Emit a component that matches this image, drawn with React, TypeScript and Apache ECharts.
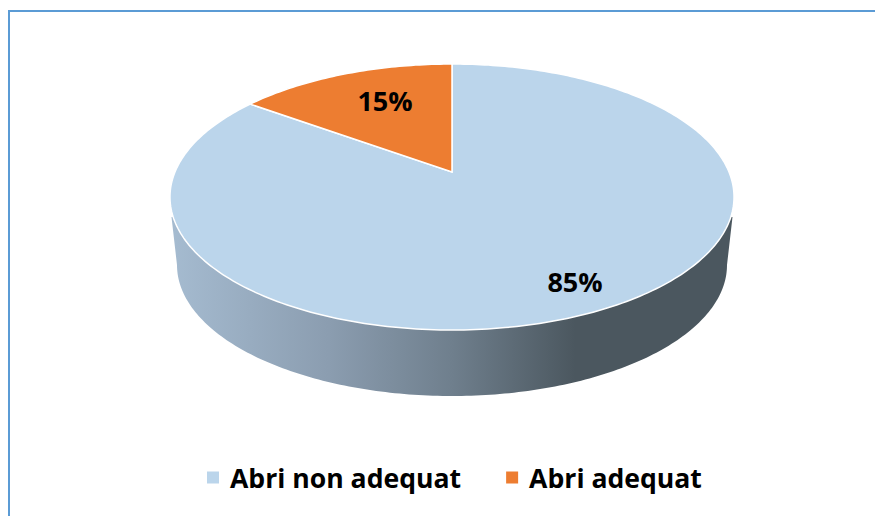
import React, { useEffect, useRef } from "react";
import * as echarts from "echarts";

const categories = ["Abri non adequat", "Abri adequat"];
const shares = [85, 15];
const sliceColors = ["#BBD5EB", "#ED7D31"];
const labelTexts = ["85%", "15%"];

const FONT = '"Open Sans", "Noto Sans", sans-serif';
const TIP = { x: 452, y: 172 };
const PERSPECTIVE = { a: 277, b: 128.3, k: 0.188 };
const LOWER = { x: 452, y: 265, rx: 275, ry: 131 };
const RIM_Y = 217;
const RIM_X = [171.5, 732.5];
const LABEL_AT = [
  { x: 575, y: 281 },
  { x: 385, y: 100 },
];

const total = shares.reduce((a, b) => a + b, 0);

function project(deg: number, r = 1): number[] {
  const t = (deg * Math.PI) / 180;
  const s = Math.cos(t);
  const c = Math.sin(t);
  const d = 1 + PERSPECTIVE.k * r * s;
  return [TIP.x + (PERSPECTIVE.a * r * c) / d, TIP.y - (PERSPECTIVE.b * r * s) / d];
}

function sliceSeries(index: number) {
  return {
    type: "custom",
    name: categories[index],
    coordinateSystem: "none",
    clip: false,
    silent: true,
    itemStyle: { color: sliceColors[index] },
    data: [[shares[index]]],
    renderItem: (_p: any, api: any) => {
      const before = shares.slice(0, index).reduce((a, b) => a + b, 0);
      const start = (before / total) * 360;
      const end = start + (api.value(0) / total) * 360;
      const points: number[][] = [[TIP.x, TIP.y]];
      for (let a = start; a < end; a += 1) points.push(project(a));
      points.push(project(end));
      return {
        type: "group",
        children: [
          {
            type: "polygon",
            shape: { points },
            style: { fill: sliceColors[index], stroke: "#FFFFFF", lineWidth: 1.5, lineJoin: "miter" },
          },
          {
            type: "text",
            z2: 10,
            style: {
              text: labelTexts[index],
              x: LABEL_AT[index].x,
              y: LABEL_AT[index].y,
              align: "center",
              verticalAlign: "middle",
              fill: "#000000",
              fontFamily: FONT,
              fontWeight: "bold",
              fontSize: 27,
            },
          },
        ],
      };
    },
  };
}

const wallSeries = {
  type: "custom",
  name: "wall",
  coordinateSystem: "none",
  clip: false,
  silent: true,
  data: [[total]],
  renderItem: () => {
    const points: number[][] = [[RIM_X[0], RIM_Y]];
    for (let t = 180; t >= 0; t -= 1) {
      const r = (t * Math.PI) / 180;
      points.push([LOWER.x + LOWER.rx * Math.cos(r), LOWER.y + LOWER.ry * Math.sin(r)]);
    }
    points.push([RIM_X[1], RIM_Y]);
    return {
      type: "polygon",
      shape: { points },
      style: {
        fill: new echarts.graphic.LinearGradient(0, 0, 1, 0, [
          { offset: 0, color: "#A5BBD0" },
          { offset: 0.28, color: "#8B9DB0" },
          { offset: 0.5, color: "#6F7F8D" },
          { offset: 0.72, color: "#4B575F" },
          { offset: 1, color: "#4B575F" },
        ]),
      },
    };
  },
};

export default function App() {
  const ref = useRef<HTMLDivElement>(null);
  useEffect(() => {
    const chart = echarts.init(ref.current!, undefined, { renderer: "svg" });
    chart.setOption({
      animation: false,
      backgroundColor: "#FFFFFF",
      legend: {
        data: categories,
        left: 207,
        top: 464,
        icon: "rect",
        itemWidth: 12,
        itemHeight: 12,
        itemGap: 45,
        padding: 0,
        selectedMode: false,
        textStyle: { fontFamily: FONT, fontWeight: "bold", fontSize: 26.6, color: "#000000", padding: [0, 0, 0, 6] },
      },
      graphic: [
        {
          type: "polyline",
          shape: { points: [[9, 516], [9, 11], [875, 11]] },
          style: { stroke: "#5B9BD5", lineWidth: 2, fill: "none" },
        },
      ],
      series: [wallSeries, sliceSeries(0), sliceSeries(1)],
    });
    return () => chart.dispose();
  }, []);
  return <div ref={ref} style={{ position: "fixed", left: 0, top: 0, width: 875, height: 516 }} />;
}
